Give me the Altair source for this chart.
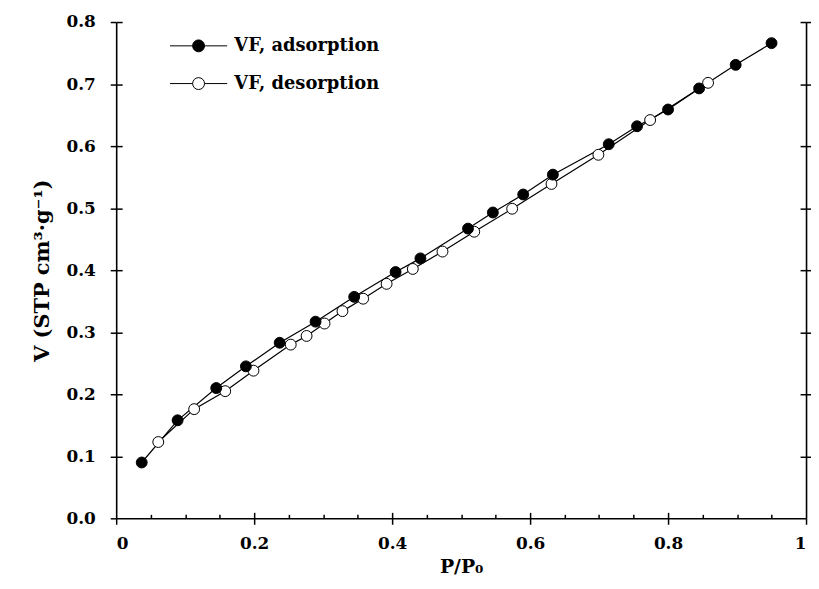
import altair as alt
import pandas as pd

# ---- data ----
ads_x = [0.037, 0.089, 0.145, 0.188, 0.237, 0.289, 0.345, 0.405, 0.441, 0.510,
         0.546, 0.590, 0.633, 0.714, 0.755, 0.800, 0.845, 0.898, 0.950]
ads_y = [0.090, 0.158, 0.210, 0.245, 0.283, 0.317, 0.357, 0.397, 0.419, 0.467,
         0.493, 0.522, 0.554, 0.603, 0.632, 0.659, 0.693, 0.731, 0.766]
des_x = [0.061, 0.113, 0.158, 0.199, 0.253, 0.276, 0.302, 0.328, 0.358, 0.392,
         0.430, 0.473, 0.519, 0.574, 0.631, 0.699, 0.774, 0.858]
des_y = [0.123, 0.176, 0.205, 0.238, 0.280, 0.294, 0.314, 0.334, 0.354, 0.378,
         0.402, 0.430, 0.462, 0.499, 0.539, 0.586, 0.642, 0.702]
series = ["VF, adsorption", "VF, desorption"]
x_ticks = [0, 0.2, 0.4, 0.6, 0.8, 1]
x_minor = [0.05, 0.1, 0.15, 0.25, 0.3, 0.35, 0.45, 0.5, 0.55, 0.65, 0.7, 0.75, 0.85, 0.9, 0.95]
y_ticks = [0, 0.1, 0.2, 0.3, 0.4, 0.5, 0.6, 0.7, 0.8]

rows = []
for x, y in zip(des_x, des_y):
    rows.append({"x": x, "y": y, "s": series[1], "o": 0})
for x, y in zip(ads_x, ads_y):
    rows.append({"x": x, "y": y, "s": series[0], "o": 1})
df = pd.DataFrame(rows)

FONT = "DejaVu Serif"
xs = alt.Scale(domain=[0, 1], nice=False, zero=False)
ys = alt.Scale(domain=[0, 0.8], nice=False, zero=False)

def ax(**kw):
    base = dict(grid=False, domain=False, labels=False, title=None,
                tickColor="black", tickWidth=1.5, tickSize=6)
    base.update(kw)
    return alt.Axis(**base)

main_x = alt.Axis(orient="bottom", values=x_ticks, format="~g", grid=False,
                  domain=True, domainColor="black", domainWidth=1.6,
                  tickColor="black", tickWidth=1.5, tickSize=6,
                  labelFont=FONT, labelFontSize=17, labelFontWeight="bold",
                  labelColor="black", labelPadding=11,
                  title="P/P₀", titleFont=FONT, titleFontSize=19,
                  titleFontWeight="bold", titleColor="black", titlePadding=7)
main_y = alt.Axis(orient="left", values=y_ticks, format=".1f", grid=False,
                  domain=True, domainColor="black", domainWidth=1.6,
                  tickColor="black", tickWidth=1.5, tickSize=6,
                  labelFont=FONT, labelFontSize=17, labelFontWeight="bold",
                  labelColor="black", labelPadding=15,
                  title="V (STP cm³·g⁻¹)", titleFont=FONT, titleFontSize=21,
                  titleFontWeight="bold", titleColor="black", titlePadding=14)

legend_path = ("M-4.8,0L-1,0M1,0L4.8,0"
               "M1,0A1,1,0,1,1,-1,0A1,1,0,1,1,1,0Z")

lines = alt.Chart(df).mark_line(color="black", strokeWidth=1.2).encode(
    x=alt.X("x:Q", scale=xs, axis=main_x),
    y=alt.Y("y:Q", scale=ys, axis=main_y),
    detail="s:N",
    order="x:Q",
)

points = alt.Chart(df).mark_point(filled=False, shape="circle", size=120,
                                  stroke="black", strokeWidth=1, opacity=1).encode(
    x=alt.X("x:Q", scale=xs, axis=ax(orient="bottom", offset=-6, values=[0.2, 0.4, 0.6, 0.8])),
    y=alt.Y("y:Q", scale=ys, axis=ax(orient="left", offset=-6, values=y_ticks[1:])),
    fill=alt.Fill("s:N", scale=alt.Scale(domain=series, range=["black", "white"]),
                  legend=alt.Legend(orient="none", legendX=74, legendY=15, title=None,
                                    symbolType=legend_path, symbolSize=144,
                                    symbolStrokeColor="black", symbolStrokeWidth=1,
                                    symbolOffset=0, padding=0,
                                    labelFont=FONT, labelFontSize=18,
                                    labelFontWeight="bold", labelColor="black",
                                    labelOffset=27, rowPadding=20)),
    order="o:Q",
)

ghost1 = alt.Chart(df).mark_point(opacity=0).encode(
    x=alt.X("x:Q", scale=xs, axis=ax(orient="bottom", offset=-4, tickSize=4, values=x_minor)),
    y=alt.Y("y:Q", scale=ys, axis=ax(orient="right", domain=True, domainColor="black",
                                     domainWidth=1.6, values=y_ticks[1:])),
)

ghost2 = alt.Chart(df).mark_point(opacity=0).encode(
    x=alt.X("x:Q", scale=xs, axis=None),
    y=alt.Y("y:Q", scale=ys, axis=ax(orient="right", offset=-6, values=y_ticks[1:])),
)

chart = alt.layer(lines, points, ghost1, ghost2).resolve_axis(
    x="independent", y="independent"
).properties(
    width=695, height=500,
    autosize=alt.AutoSizeParams(type="none"),
    padding={"left": 109, "top": 12, "right": 5, "bottom": 61},
    background="white",
).configure_view(stroke=None)

chart.save("out.html", embed_options={"renderer": "svg", "actions": False})
